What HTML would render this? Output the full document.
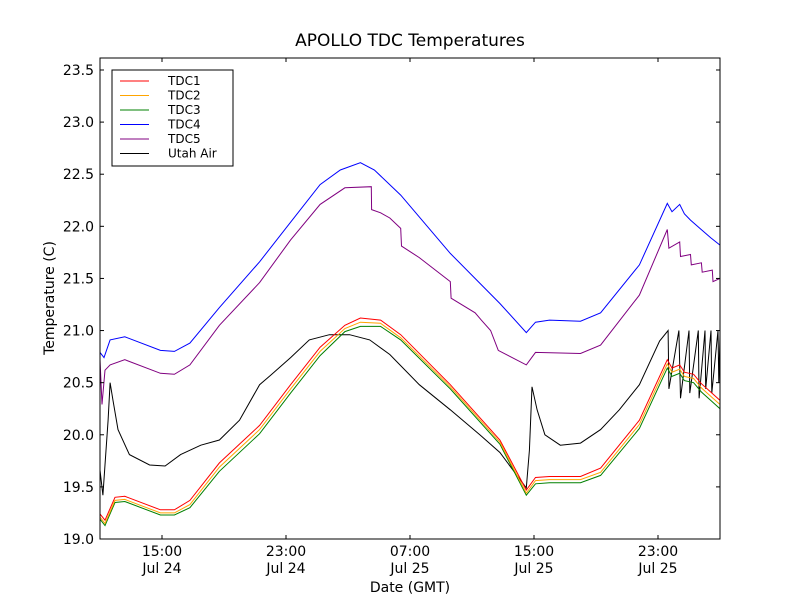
<!DOCTYPE html>
<html><head><meta charset="utf-8"><style>
body{margin:0;background:#fff;}
svg text{font-family:"DejaVu Sans","Liberation Sans",sans-serif;}
</style></head><body>
<svg id="chart" width="800" height="600" xmlns="http://www.w3.org/2000/svg">
<rect x="0" y="0" width="800" height="600" fill="#fff"/>
<text x="410" y="46" font-size="17" text-anchor="middle">APOLLO TDC Temperatures</text>
<g id="plot"></g>
<rect x="100" y="58" width="620" height="481" fill="none" stroke="#000" stroke-width="1"/>
<text x="410" y="592" font-size="14" text-anchor="middle">Date (GMT)</text>
<text transform="translate(54,298) rotate(-90)" font-size="14" text-anchor="middle">Temperature (C)</text>
<g id="ticks"></g>
<g id="legend"></g>
</svg>
<script>
const hoursBlue=[0,0.26,0.65,1.6,3.9,4.8,5.8,7.7,10.3,12.3,14.2,15.5,16.8,17.7,19.4,22.6,25.8,27.5,28.1,29,31,32.3,34.8,36.6,36.9,37.4,37.7,38.1,38.7,39.4,40];
const tdc4=[20.79,20.74,20.91,20.94,20.81,20.80,20.88,21.22,21.66,22.04,22.40,22.54,22.61,22.54,22.30,21.74,21.26,20.98,21.08,21.10,21.09,21.17,21.63,22.22,22.14,22.21,22.12,22.06,21.98,21.89,21.82];
const hoursPurple=[0,0.13,0.32,0.65,1.6,3.9,4.8,5.8,7.7,10.3,12.3,14.2,15.8,17.5,17.52,18.1,18.7,19.4,19.45,20.6,22.6,22.65,24.2,24.6,25.2,25.7,27.5,28.1,31,32.3,34.8,36.6,36.7,37.4,37.45,38.1,38.15,38.8,38.85,39.5,39.55,40];
const tdc5=[20.72,20.29,20.62,20.67,20.72,20.59,20.58,20.67,21.05,21.46,21.87,22.21,22.37,22.38,22.16,22.13,22.08,21.98,21.81,21.70,21.47,21.31,21.17,21.10,21.00,20.81,20.67,20.79,20.78,20.86,21.34,21.97,21.79,21.85,21.71,21.73,21.63,21.65,21.56,21.58,21.47,21.50];
const hoursTdc=[0,0.32,0.97,1.6,3.9,4.8,5.8,7.7,10.3,12.3,14.2,15.8,16.8,18.1,19.4,22.6,25.8,27.5,28.1,29,31,32.3,34.8,36.6,36.9,37.4,37.7,38.3,38.8,39.4,40];
const tdc1=[19.24,19.18,19.40,19.41,19.28,19.28,19.37,19.73,20.09,20.48,20.84,21.05,21.12,21.10,20.96,20.48,19.95,19.47,19.59,19.60,19.60,19.68,20.14,20.72,20.64,20.67,20.60,20.58,20.49,20.41,20.33];
const tdc2=[19.21,19.15,19.37,19.38,19.25,19.25,19.33,19.69,20.05,20.44,20.80,21.02,21.08,21.07,20.93,20.46,19.93,19.44,19.56,19.57,19.57,19.64,20.10,20.68,20.60,20.63,20.56,20.54,20.45,20.37,20.29];
const tdc3=[19.19,19.13,19.35,19.36,19.23,19.23,19.30,19.65,20.01,20.40,20.76,20.99,21.04,21.04,20.91,20.44,19.91,19.42,19.53,19.54,19.54,19.61,20.06,20.64,20.56,20.59,20.52,20.50,20.41,20.33,20.25];
const hoursAir=[0,0.19,0.52,0.65,0.84,1.16,1.9,3.2,4.2,5.2,6.5,7.7,9.0,10.3,11.0,12.3,13.5,14.8,16.1,17.4,18.7,20.6,22.6,24.5,25.8,27.5,27.7,27.87,28.2,28.7,29.7,31,32.3,33.5,34.8,36.1,36.65,36.7,37.35,37.45,38.0,38.05,38.6,38.65,39.03,39.08,39.42,39.47,39.87,39.92,40];
const utahAir=[19.66,19.42,20.14,20.50,20.33,20.05,19.81,19.71,19.70,19.81,19.90,19.95,20.14,20.48,20.57,20.74,20.91,20.96,20.96,20.91,20.77,20.48,20.24,20.00,19.83,19.49,19.85,20.46,20.24,20.00,19.90,19.92,20.05,20.24,20.48,20.90,21.00,20.44,21.00,20.35,21.00,20.40,21.00,20.35,21.00,20.44,21.00,20.40,21.00,20.50,20.95];
const yTicks=[19.0,19.5,20.0,20.5,21.0,21.5,22.0,22.5,23.0,23.5];
const xTickHours=[4,12,20,28,36];
const xTickTimes=["15:00","23:00","07:00","15:00","23:00"];
const xTickDates=["Jul 24","Jul 24","Jul 25","Jul 25","Jul 25"];
const seriesNames=["TDC1","TDC2","TDC3","TDC4","TDC5","Utah Air"];
const seriesColors=["#ff0000","#ffa500","#008000","#0000ff","#800080","#000000"];

const X0=100,X1=720,Y0=539,Y1=58,HMAX=40,VMIN=19.0,VMAX=23.615;
const sx=h=>X0+(h/HMAX)*(X1-X0);
const sy=v=>Y0-(v-VMIN)/(VMAX-VMIN)*(Y0-Y1);
const NS="http://www.w3.org/2000/svg";
const plot=document.getElementById('plot');
function line(hs,vs,color,name){
  const p=document.createElementNS(NS,'polyline');
  p.setAttribute('points',hs.map((h,i)=>sx(h).toFixed(1)+','+sy(vs[i]).toFixed(1)).join(' '));
  p.setAttribute('fill','none');p.setAttribute('stroke',color);p.setAttribute('stroke-width','1');
  
  
  plot.appendChild(p);
}
line(hoursBlue,tdc4,seriesColors[3],'tdc4-line');
line(hoursPurple,tdc5,seriesColors[4],'tdc5-line');
line(hoursAir,utahAir,seriesColors[5],'utah-air-line');
line(hoursTdc,tdc3,seriesColors[2],'tdc3-line');
line(hoursTdc,tdc2,seriesColors[1],'tdc2-line');
line(hoursTdc,tdc1,seriesColors[0],'tdc1-line');

const ticks=document.getElementById('ticks');
yTicks.forEach(v=>{
  const y=sy(v);
  const g=document.createElementNS(NS,'g');
  
  
  g.innerHTML=`<line x1="100" x2="104" y1="${y}" y2="${y}" stroke="#000"/><line x1="716" x2="720" y1="${y}" y2="${y}" stroke="#000"/><text x="94" y="${y+5}" font-size="14" text-anchor="end">${v.toFixed(1)}</text>`;
  ticks.appendChild(g);
});
xTickHours.forEach((h,i)=>{
  const x=sx(h);
  const g=document.createElementNS(NS,'g');
  
  
  g.innerHTML=`<line x1="${x}" x2="${x}" y1="539" y2="535" stroke="#000"/><line x1="${x}" x2="${x}" y1="58" y2="62" stroke="#000"/><text x="${x}" y="556" font-size="14" text-anchor="middle">${xTickTimes[i]}</text><text x="${x}" y="573" font-size="14" text-anchor="middle">${xTickDates[i]}</text>`;
  ticks.appendChild(g);
});
const leg=document.getElementById('legend');
const box=document.createElementNS(NS,'rect');
box.setAttribute('x','112');box.setAttribute('y','70');box.setAttribute('width','121');box.setAttribute('height','96');
box.setAttribute('fill','#fff');box.setAttribute('stroke','#000');


leg.appendChild(box);
seriesNames.forEach((n,i)=>{
  const y=81+i*14.5;
  const g=document.createElementNS(NS,'g');
  
  
  g.innerHTML=`<line x1="120" x2="149" y1="${y}" y2="${y}" stroke="${seriesColors[i]}"/><text x="168" y="${y+4}" font-size="12">${n}</text>`;
  leg.appendChild(g);
});
</script>
</body></html>
